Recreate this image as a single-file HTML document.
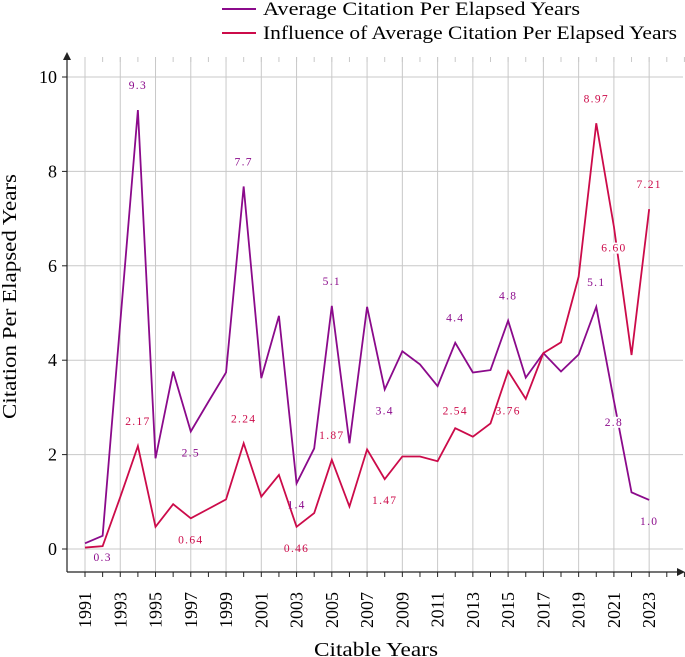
<!DOCTYPE html>
<html><head><meta charset="utf-8"><style>
body{margin:0;background:#fff}
svg{display:block;font-family:"Liberation Serif",serif}
</style></head><body>
<svg id="chart" width="685" height="657" viewBox="0 0 685 657" xmlns="http://www.w3.org/2000/svg">
<g id="grid"></g>
<g id="axes"></g>
<g id="series"></g>
<g id="labels"></g>
<g>
<line x1="222" y1="9" x2="256" y2="9" stroke="#8b0a8b" stroke-width="2"/>
<text x="263" y="15" font-size="19" textLength="317" lengthAdjust="spacingAndGlyphs">Average Citation Per Elapsed Years</text>
<line x1="222" y1="33" x2="256" y2="33" stroke="#cc0b4a" stroke-width="2"/>
<text x="263" y="39" font-size="19" textLength="414" lengthAdjust="spacingAndGlyphs">Influence of Average Citation Per Elapsed Years</text>
</g>
<text x="314" y="656" font-size="20" textLength="124" lengthAdjust="spacingAndGlyphs">Citable Years</text>
<text transform="translate(16,419) rotate(-90)" font-size="20" textLength="245" lengthAdjust="spacingAndGlyphs">Citation Per Elapsed Years</text>
</svg>
<script>
const years=[1991,1992,1993,1994,1995,1996,1997,1998,1999,2000,2001,2002,2003,2004,2005,2006,2007,2008,2009,2010,2011,2012,2013,2014,2015,2016,2017,2018,2019,2020,2021,2022,2023];
const avgCitation=[0.12,0.28,4.8,9.3,1.92,3.76,2.49,3.12,3.74,7.68,3.62,4.94,1.39,2.13,5.15,2.24,5.13,3.38,4.19,3.91,3.45,4.37,3.74,3.79,4.84,3.63,4.15,3.76,4.12,5.13,3.14,1.2,1.04];
const influence=[0.03,0.06,1.1,2.18,0.47,0.95,0.65,0.85,1.05,2.24,1.11,1.57,0.47,0.76,1.89,0.9,2.11,1.48,1.96,1.96,1.86,2.56,2.38,2.66,3.77,3.18,4.15,4.38,5.77,9.02,6.83,4.11,7.2];
const yTicks=[0,2,4,6,8,10];
const avgLabels=[["9.3",1994,9.3,"up"],["0.3",1992,0.28,"down"],["2.5",1997,2.49,"down"],["7.7",2000,7.68,"up"],["1.4",2003,1.39,"down"],["5.1",2005,5.15,"up"],["3.4",2008,3.38,"down"],["4.4",2012,4.37,"up"],["4.8",2015,4.84,"up"],["5.1",2020,5.13,"up"],["2.8",2021,3.14,"down"],["1.0",2023,1.04,"down"]];
const infLabels=[["2.17",1994,2.18,"up"],["0.64",1997,0.65,"down"],["2.24",2000,2.24,"up"],["0.46",2003,0.47,"down"],["1.87",2005,1.89,"up"],["1.47",2008,1.48,"down"],["2.54",2012,3.38,"down"],["3.76",2015,3.38,"down"],["8.97",2020,9.02,"up"],["6.60",2021,6.83,"down"],["7.21",2023,7.2,"up"]];
const NS="http://www.w3.org/2000/svg";
const X=y=>85+(y-1991)*17.63;
const Y=v=>549-47.2*v;
function mk(tag,attrs,parent){const e=document.createElementNS(NS,tag);for(const k in attrs)e.setAttribute(k,attrs[k]);parent.appendChild(e);return e;}
const grid=document.getElementById('grid'),axes=document.getElementById('axes'),series=document.getElementById('series'),labels=document.getElementById('labels');
for(let y=1991;y<=2023;y+=2){const l=mk('line',{x1:X(y),x2:X(y),y1:57,y2:572,stroke:'#c8c8c8','stroke-width':1},grid);

}
yTicks.forEach(v=>{const l=mk('line',{x1:67,x2:683,y1:Y(v),y2:Y(v),stroke:'#c8c8c8','stroke-width':1},grid);


mk('line',{x1:62,x2:67,y1:Y(v),y2:Y(v),stroke:'#222'},axes);
const t=mk('text',{x:57,y:Y(v)+6,'font-size':18,'text-anchor':'end'},axes);t.textContent=v;

});
for(let y=1991;y<=2025;y++){mk('line',{x1:X(y),x2:X(y),y1:572,y2:577,stroke:'#222'},axes);
mk('line',{x1:X(y),x2:X(y),y1:57,y2:62,stroke:'#c8c8c8'},axes);}
years.forEach(y=>{if((y-1991)%2)return;const t=mk('text',{transform:`translate(${X(y)+6},592) rotate(-90)`,'font-size':18,'text-anchor':'end'},axes);t.textContent=y;

});
const ya=mk('line',{x1:67,x2:67,y1:572,y2:58,stroke:'#222','stroke-width':1.2},axes);


mk('path',{d:'M63,60 L67,52 L71,60 Z',fill:'#222'},axes);
const xa=mk('line',{x1:67,x2:680,y1:572,y2:572,stroke:'#222','stroke-width':1.2},axes);


mk('path',{d:'M677,568 L685,572 L677,576 Z',fill:'#222'},axes);
function line(vals,color,name){const p=mk('polyline',{points:vals.map((v,i)=>X(years[i])+','+Y(v)).join(' '),fill:'none',stroke:color,'stroke-width':1.8,'stroke-linejoin':'miter'},series);

}
line(avgCitation,'#8b0a8b','average-citation-line');
line(influence,'#cc0b4a','influence-line');
function lab(arr,color){arr.forEach(([s,yr,v,dir])=>{const cy=dir==='up'?Y(v)-22:Y(v)+24;const w=s.length*8;
if(yr===2021)mk('rect',{x:X(yr)-w/2,y:cy-8,width:w,height:11,fill:'#fff'},labels);
const t=mk('text',{x:X(yr),y:cy+1,'font-size':11.5,'text-anchor':'middle',fill:color,'letter-spacing':'1.3'},labels);t.textContent=s;

});}
lab(avgLabels,'#8b0a8b');lab(infLabels,'#cc0b4a');
</script>
</body></html>
